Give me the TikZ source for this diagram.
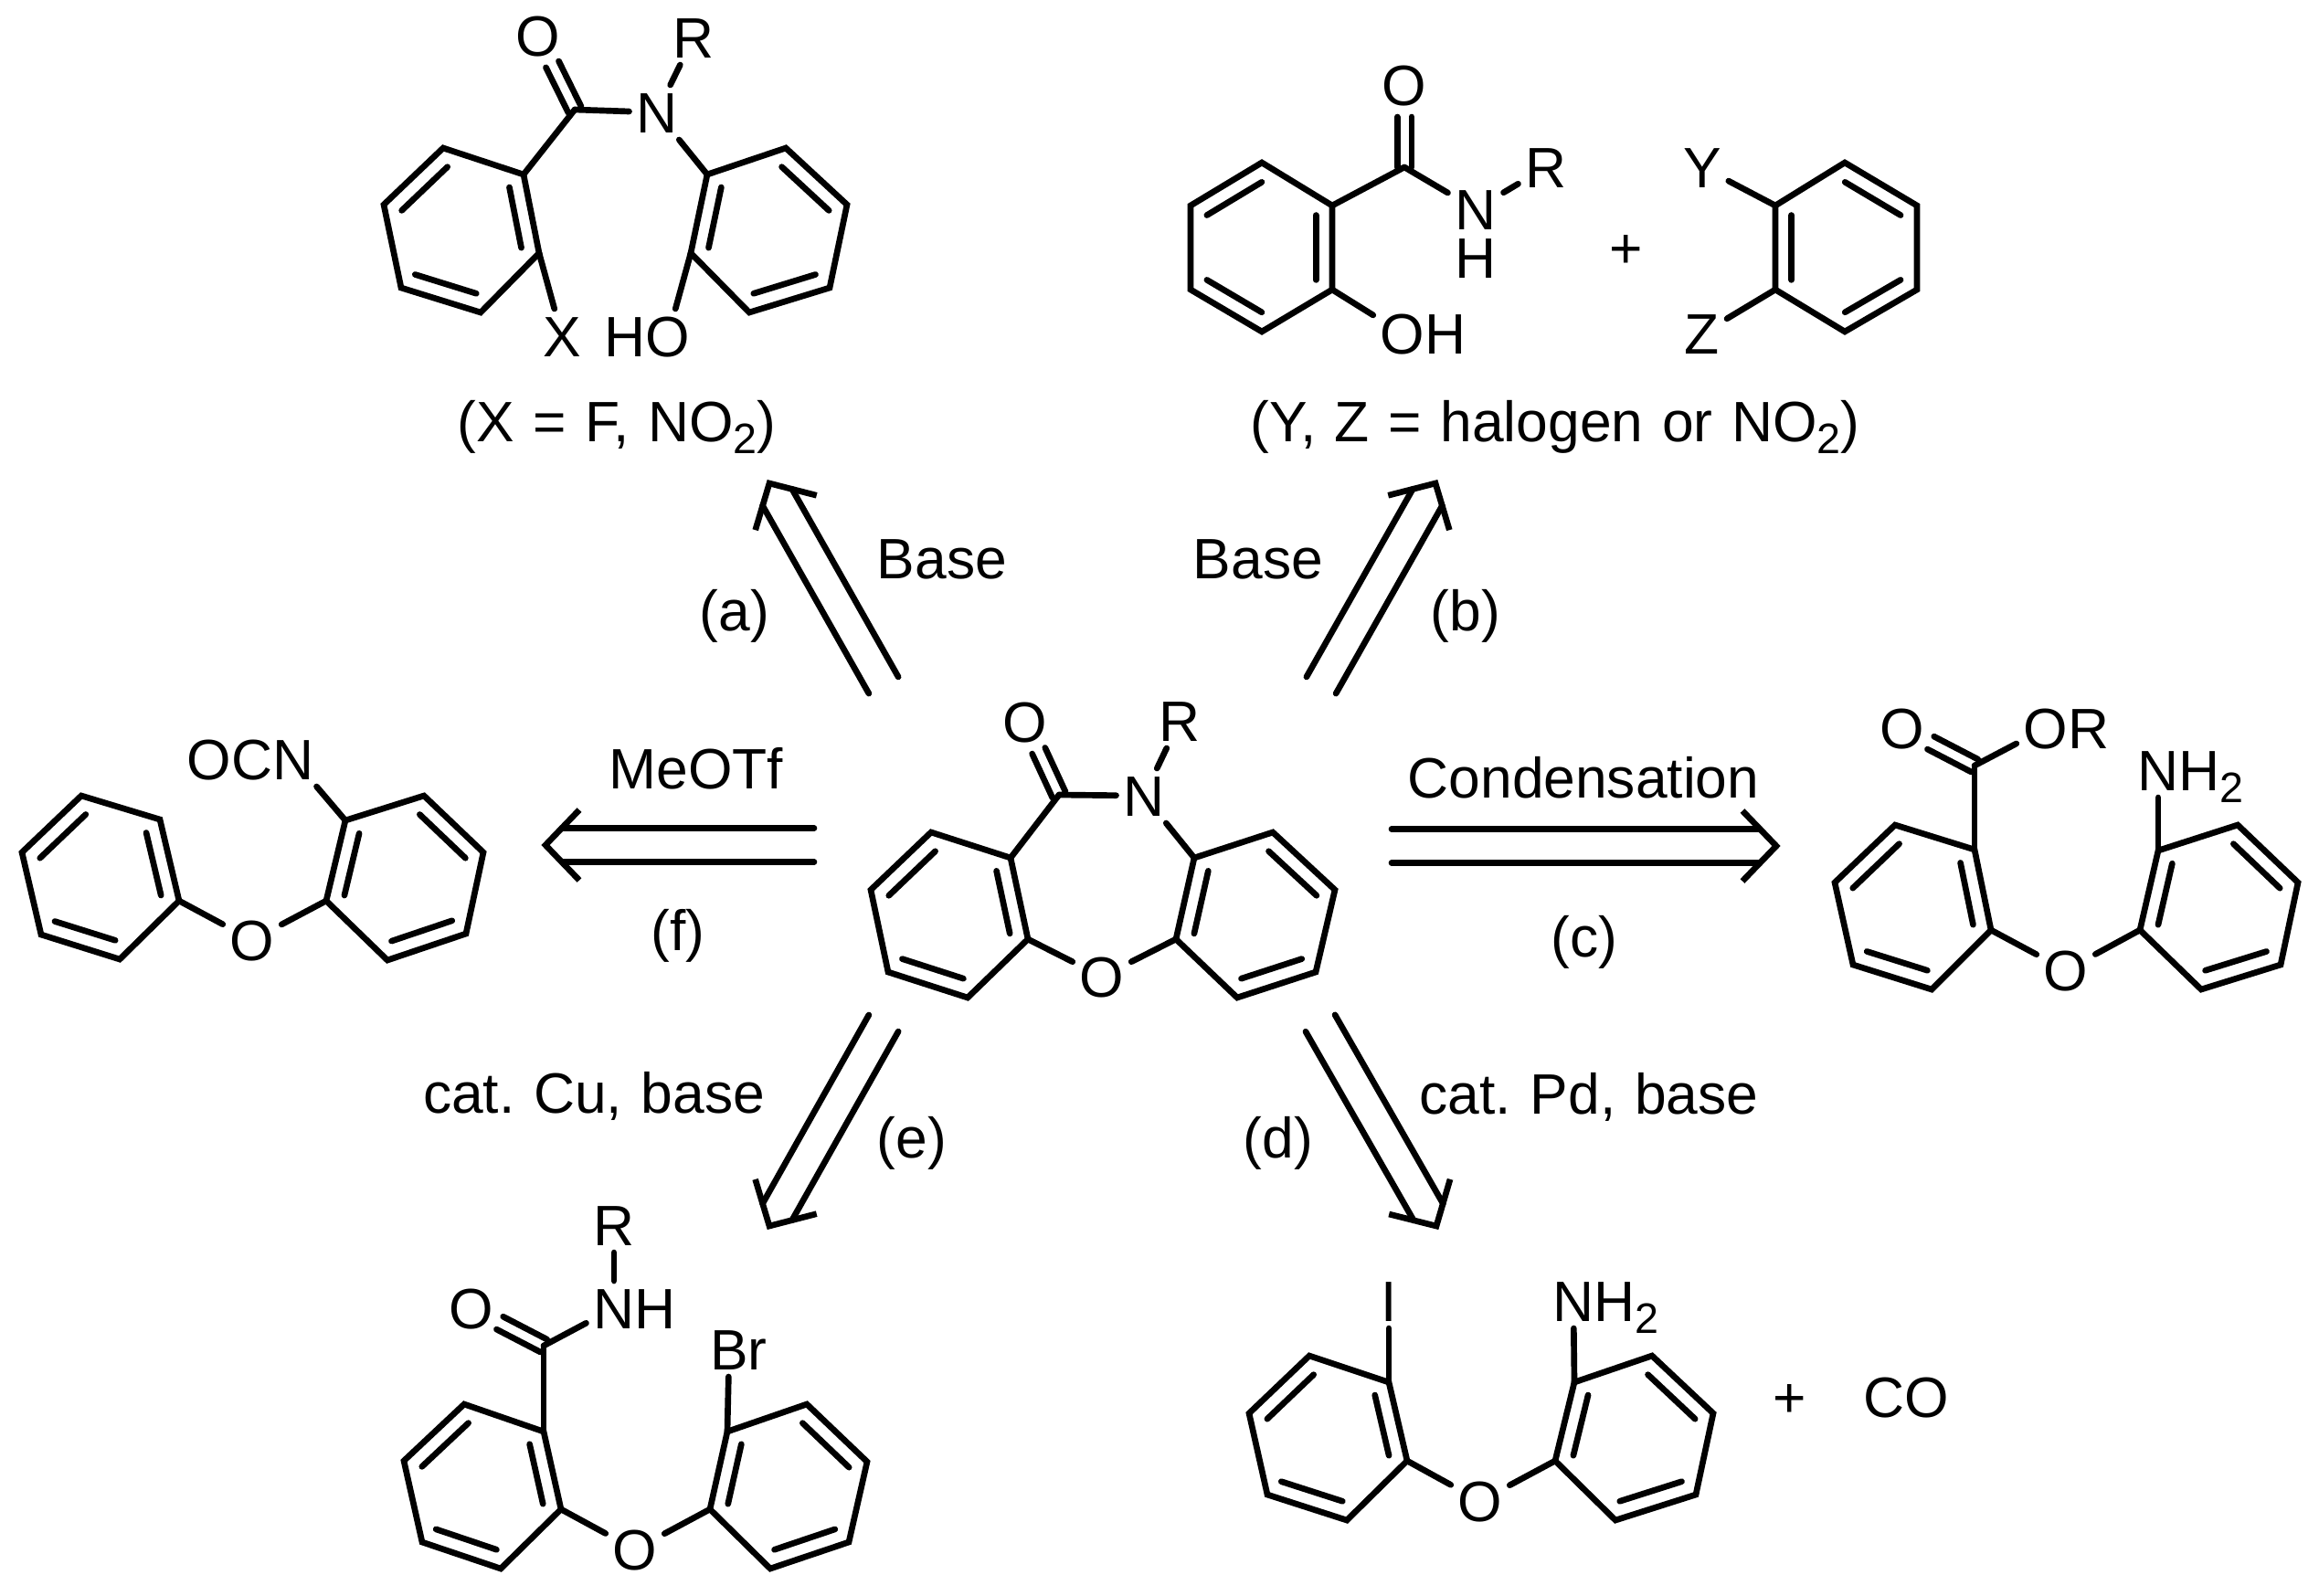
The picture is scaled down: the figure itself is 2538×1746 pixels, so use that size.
\documentclass[tikz,border=0pt]{standalone}
\usepackage{fontspec}
\usepackage{tikz}
\usetikzlibrary{calc,positioning}
\setmainfont{Liberation Sans}[WordSpace=1.19]
\newcommand{\subtwo}{\raisebox{-4pt}{\fontsize{14}{14}\selectfont 2}}
\newcommand{\benzring}[7]{
    \coordinate (#11) at (#2);
    \coordinate (#12) at (#3);
    \coordinate (#13) at (#4);
    \coordinate (#14) at (#5);
    \coordinate (#15) at (#6);
    \coordinate (#16) at (#7);
    \coordinate (#1c) at (barycentric cs:#11=1,#12=1,#13=1,#14=1,#15=1,#16=1);
    \draw [ring] (#11) -- (#12) -- (#13) -- (#14) -- (#15) -- (#16) -- cycle;
    \draw [bond] ($(#1c)!0.77!(#11)$) -- ($(#1c)!0.77!(#12)$);
    \draw [bond] ($(#1c)!0.77!(#13)$) -- ($(#1c)!0.77!(#14)$);
    \draw [bond] ($(#1c)!0.77!(#15)$) -- ($(#1c)!0.77!(#16)$);
}
\newcommand{\dblbond}[2]{
    \draw [bond, shorten >=10.5pt] ($(#1)!2.35pt!90:(#2)$) -- ($(#2)!2.35pt!-90:(#1)$);
    \draw [bond, shorten >=10.5pt] ($(#1)!2.35pt!-90:(#2)$) -- ($(#2)!2.35pt!90:(#1)$);
}
\newcommand{\retro}[2]{
    \coordinate (rs) at ($(#2)!5.3pt!(#1)$);
    \coordinate (re) at ($(#2)!11.1pt!(#1)$);
    \draw [bond] ($(#1)!5.55pt!90:(#2)$) -- ($(rs)!5.55pt!-90:(#1)$);
    \draw [bond] ($(#1)!5.55pt!-90:(#2)$) -- ($(rs)!5.55pt!90:(#1)$);
    \draw [ring] ($(re)!11.55pt!90:(#1)$) -- (#2) -- ($(re)!11.55pt!-90:(#1)$);
}

\begin{document}
\begin{tikzpicture}[x=0.3pt, y=-0.3pt, line width=2pt,
    font=\fontsize{18.7}{22}\selectfont,
    bond/.style={line cap=round},
    ring/.style={line join=miter},
    atom/.style={inner sep=2.4pt, outer sep=0pt, text height=13.2pt, text depth=0pt},
    lbl/.style={inner sep=0pt, outer sep=0pt, anchor=base}]
    \useasboundingbox (0, 0) rectangle (2538, 1746);

    \benzring{ml}{1125, 1028}{1106, 939}{1019, 911}{953, 974}{972, 1064}{1059, 1092}
    \benzring{mr}{1287, 1028}{1307, 939}{1393, 911}{1461, 974}{1440, 1064}{1354, 1092}
    \coordinate (mC) at (1159, 870);
    \node [atom] (mO) at (1122, 790) {O};
    \node [atom] (mN) at (1252, 871) {N};
    \node [atom] (mR) at (1291, 789) {R};
    \node [atom] (mE) at (1206, 1069) {O};
    \dblbond{mC}{mO}
    \draw [bond] (mC) -- (mN);
    \draw [bond] (mC) -- (ml2);
    \draw [bond] (mN) -- (mR);
    \draw [bond] (mN) -- (mr2);
    \draw [bond] (ml1) -- (mE);
    \draw [bond] (mr1) -- (mE);

    \benzring{al}{590, 277}{573, 191}{485, 162}{420, 224}{439, 315}{526, 342}
    \benzring{ar}{756, 277}{774, 191}{860, 162}{927, 224}{908, 315}{820, 342}
    \coordinate (aC) at (629, 120);
    \node [atom] (aO) at (589, 39) {O};
    \node [atom] (aN) at (719, 123) {N};
    \node [atom] (aR) at (759, 41) {R};
    \node [atom] (aX) at (615, 368) {X};
    \node [atom] (aE) at (731, 368) {O};
    \node [atom, left=-4.8pt of aE] (aH) {H};
    \node [lbl] (aT) at (675, 483) {(X = F, NO\subtwo)};
    \dblbond{aC}{aO}
    \draw [bond] (aC) -- (aN);
    \draw [bond] (aC) -- (al2);
    \draw [bond] (aN) -- (aR);
    \draw [bond] (aN) -- (ar2);
    \draw [bond] (al1) -- (aX);
    \draw [bond] (ar1) -- (aE);

    \benzring{bl}{1458, 317}{1458, 225}{1381, 178}{1303, 225}{1303, 317}{1381, 363}
    \benzring{br}{1943, 317}{1943, 225}{2019, 178}{2098, 225}{2098, 317}{2019, 363}
    \coordinate (bC) at (1537, 183);
    \node [atom] (bO) at (1537, 93) {O};
    \node [atom] (bN) at (1615, 229) {N};
    \node [atom, inner sep=0pt] (bH) at (1615, 282) {H};
    \node [atom] (bR) at (1692, 183) {R};
    \node [atom] (bE) at (1535, 365) {O};
    \node [atom, right=-4.8pt of bE] (bH2) {H};
    \node [atom] (bP) at (1780, 271) {+};
    \node [atom] (bY) at (1863, 183) {Y};
    \node [atom] (bZ) at (1863, 365) {Z};
    \node [lbl] (bT) at (1702, 483) {(Y, Z = halogen or NO\subtwo)};
    \dblbond{bC}{bO}
    \draw [bond] (bC) -- (bN);
    \draw [bond] (bC) -- (bl2);
    \draw [bond] (bN) -- (bR);
    \draw [bond] (bl1) -- (bE);
    \draw [bond] (br2) -- (bY);
    \draw [bond] (br1) -- (bZ);

    \benzring{cl}{2179, 1018}{2161, 930}{2074, 903}{2008, 966}{2028, 1056}{2114, 1083}
    \benzring{cr}{2342, 1018}{2362, 931}{2449, 903}{2515, 966}{2496, 1056}{2409, 1083}
    \coordinate (cC) at (2161, 838);
    \node [atom] (cO) at (2082, 797) {O};
    \node [atom] (cE) at (2239, 797) {O};
    \node [atom, right=-4.8pt of cE] (cR) {R};
    \node [atom] (cN) at (2362, 843) {N};
    \node [atom, right=-4.8pt of cN] (cH) {H\subtwo};
    \node [atom] (cB) at (2261, 1062) {O};
    \dblbond{cC}{cO}
    \draw [bond] (cC) -- (cE);
    \draw [bond] (cC) -- (cl2);
    \draw [bond] (cr2) -- (cN);
    \draw [bond] (cl1) -- (cB);
    \draw [bond] (cr1) -- (cB);

    \benzring{dl}{1540, 1599}{1520, 1513}{1433, 1484}{1367, 1547}{1387, 1636}{1474, 1664}
    \benzring{dr}{1702, 1599}{1723, 1513}{1808, 1484}{1875, 1547}{1856, 1636}{1768, 1664}
    \node [atom] (dI) at (1520, 1424) {I};
    \node [atom] (dN) at (1722, 1424) {N};
    \node [atom, right=-4.8pt of dN] (dH) {H\subtwo};
    \node [atom] (dE) at (1620, 1643) {O};
    \node [atom] (dP) at (1959, 1529) {+};
    \node [atom] (dCO) at (2086, 1529) {CO};
    \draw [bond] (dl2) -- (dI);
    \draw [bond] (dr2) -- (dN);
    \draw [bond] (dl1) -- (dE);
    \draw [bond] (dr1) -- (dE);

    \benzring{el}{614, 1652}{595, 1567}{508, 1537}{442, 1599}{462, 1688}{548, 1717}
    \benzring{er}{777, 1652}{796, 1567}{883, 1537}{949, 1600}{929, 1688}{843, 1717}
    \coordinate (eC) at (595, 1473);
    \node [atom] (eO) at (516, 1432) {O};
    \node [atom] (eN) at (672, 1432) {N};
    \node [atom, right=-4.8pt of eN] (eH) {H};
    \node [atom] (eR) at (672, 1341) {R};
    \node [atom] (eB) at (798, 1477) {B};
    \node [atom, right=-4.8pt of eB] (er) {r};
    \node [atom] (eE) at (695, 1696) {O};
    \dblbond{eC}{eO}
    \draw [bond] (eC) -- (eN);
    \draw [bond] (eC) -- (el2);
    \draw [bond] (eN) -- (eR);
    \draw [bond] (er2) -- (eB);
    \draw [bond] (el1) -- (eE);
    \draw [bond] (er1) -- (eE);

    \benzring{fl}{196, 986}{175, 897}{89, 871}{24, 933}{45, 1023}{131, 1050}
    \benzring{fr}{357, 986}{378, 898}{464, 871}{529, 933}{510, 1022}{424, 1051}
    \node [atom] (fN) at (321, 831) {N};
    \node [atom, left=-4.8pt of fN] (fO) {OC};
    \node [atom] (fE) at (276, 1029) {O};
    \draw [bond] (fr2) -- (fN);
    \draw [bond] (fl1) -- (fE);
    \draw [bond] (fr1) -- (fE);

    \coordinate (atail) at (967, 750);
    \coordinate (atip) at (842, 529);
    \retro{atail}{atip}
    \coordinate (btail) at (1446, 750);
    \coordinate (btip) at (1571, 529);
    \retro{btail}{btip}
    \coordinate (ctail) at (1523, 926);
    \coordinate (ctip) at (1944, 926);
    \retro{ctail}{ctip}
    \coordinate (dtail) at (1445, 1120);
    \coordinate (dtip) at (1572, 1342);
    \retro{dtail}{dtip}
    \coordinate (etail) at (967, 1120);
    \coordinate (etip) at (842, 1342);
    \retro{etail}{etip}
    \coordinate (ftail) at (891, 925);
    \coordinate (ftip) at (597, 925);
    \retro{ftail}{ftip}

    \node [lbl] (abase) at (1031, 633) {Base};
    \node [lbl] (alab) at (804, 690) {(a)};
    \node [lbl] (bbase) at (1377, 633) {Base};
    \node [lbl] (blab) at (1604, 690) {(b)};
    \node [lbl] (ccond) at (1733, 873) {Condensation};
    \node [lbl] (clab) at (1734, 1047) {(c)};
    \node [lbl] (dcat) at (1739, 1219) {cat.\ Pd, base};
    \node [lbl] (dlab) at (1399, 1267) {(d)};
    \node [lbl] (ecat) at (650, 1218) {cat.\ Cu, base};
    \node [lbl] (elab) at (998, 1267) {(e)};
    \node [lbl] (fmeo) at (762, 863) {MeOTf};
    \node [lbl] (flab) at (742, 1040) {(f)};
\end{tikzpicture}
\end{document}
